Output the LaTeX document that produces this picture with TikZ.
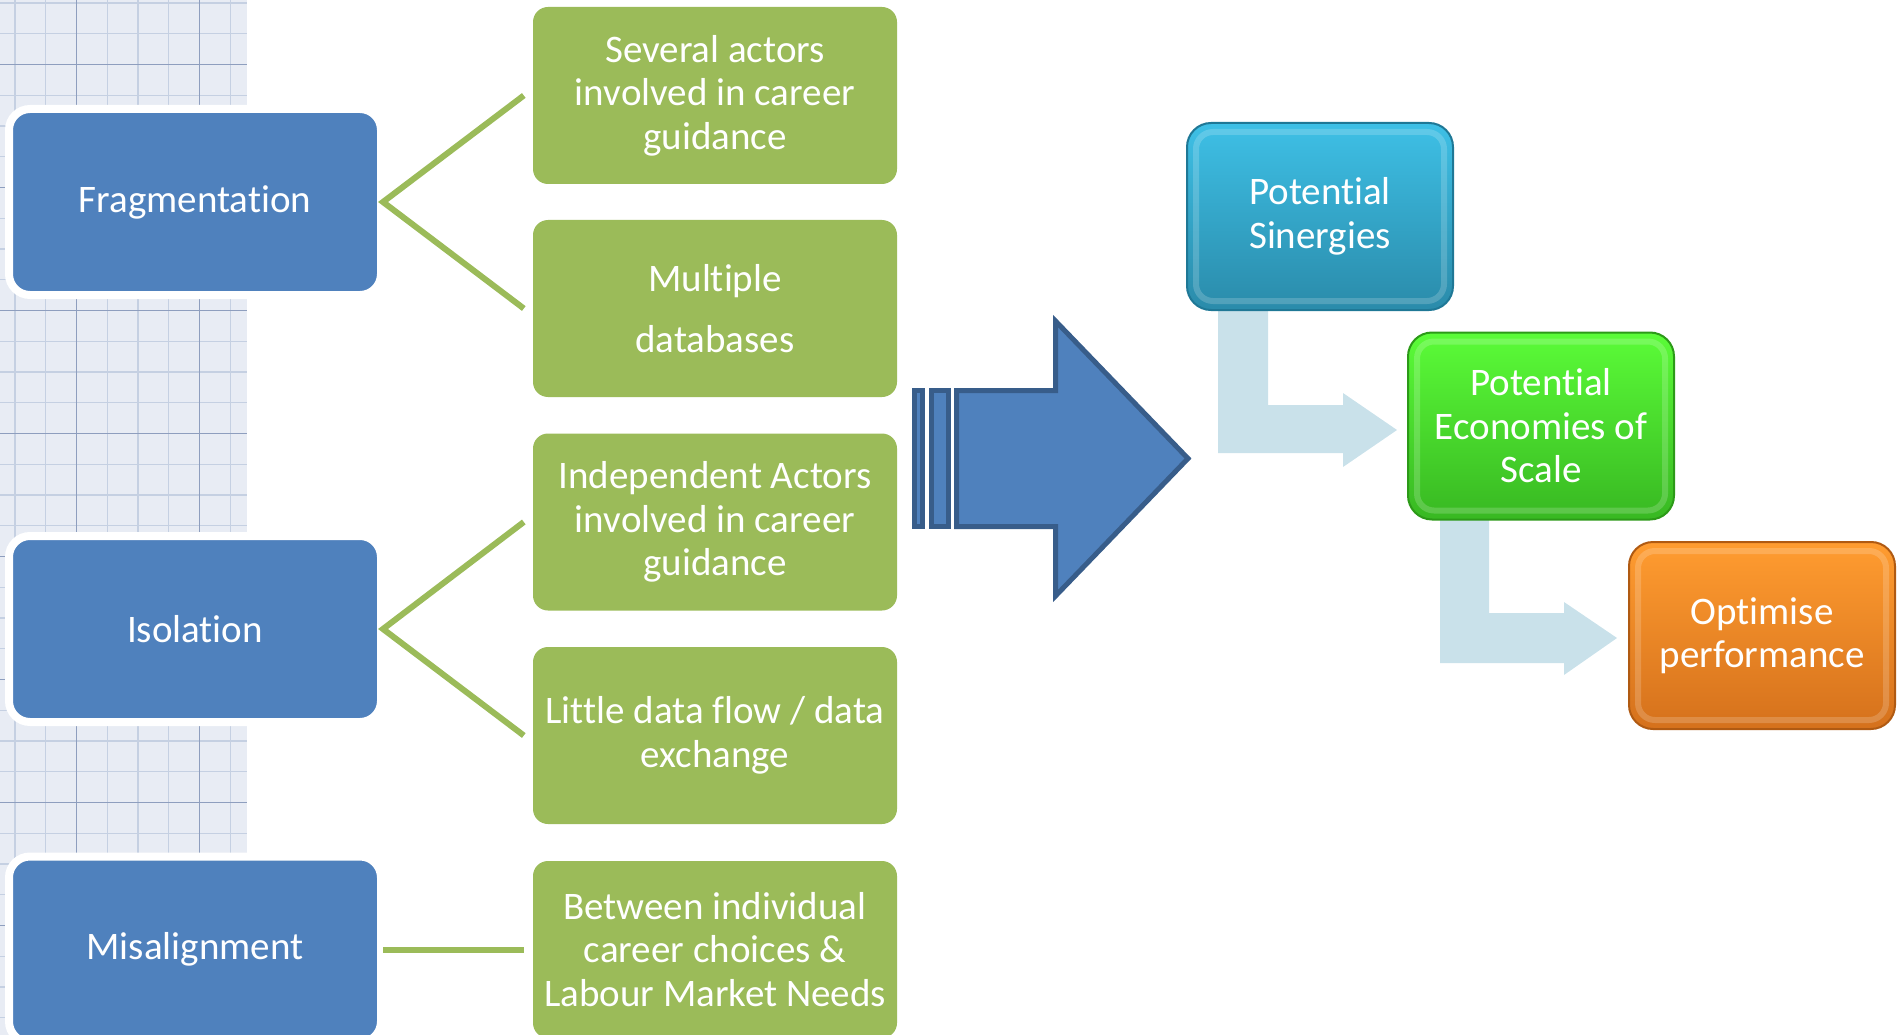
\documentclass[tikz,border=0pt]{standalone}
\usepackage{fontspec}
\setmainfont{Carlito}[Ligatures={NoCommon,NoRequired,NoContextual}]
\usetikzlibrary{calc}
\definecolor{boxblue}{HTML}{4F81BD}
\definecolor{arrowedge}{HTML}{385D8A}
\definecolor{boxgreen}{HTML}{9BBB59}
\definecolor{gridbg}{HTML}{E8ECF4}
\definecolor{gridminor}{HTML}{C5D0E2}
\definecolor{gridmajor}{HTML}{8E9EBE}
\definecolor{flowarrow}{HTML}{C9E1EA}
\definecolor{cyantop}{HTML}{3EC0E6}
\definecolor{cyanbot}{HTML}{2A8BAA}
\definecolor{cyanedge}{HTML}{1F7896}
\definecolor{limetop}{HTML}{5BFC38}
\definecolor{limebot}{HTML}{38B822}
\definecolor{limeedge}{HTML}{2C9A18}
\definecolor{orangetop}{HTML}{FF9C30}
\definecolor{orangebot}{HTML}{D5711C}
\definecolor{orangeedge}{HTML}{B05A12}
\tikzset{
  txt/.style={text=white, font=\fontsize{39}{43.5}\selectfont, align=center, inner sep=0pt},
  catbox/.style={txt, fill=boxblue, draw=white, line width=8pt, rounded corners=21pt,
    minimum width=372pt, minimum height=186pt},
  itembox/.style={txt, fill=boxgreen, rounded corners=15pt, minimum width=364pt, minimum height=177pt},
  link/.style={draw=boxgreen, line width=6pt},
  gbox/.style={txt, rounded corners=24pt, line width=2pt, minimum width=266pt, minimum height=187pt},
  bevel/.style={draw=white, opacity=0.18, line width=6pt, rounded corners=17pt},
  bigarrow/.style={fill=boxblue, draw=arrowedge, line width=5pt},
  flow/.style={fill=flowarrow}
}
\begin{document}
\begin{tikzpicture}[x=1pt,y=-1pt]
\useasboundingbox (0,0) rectangle (1899,1035);
% grid panel
\fill[gridbg] (0,0) rectangle (247,1035);
\foreach \k in {0,...,7} {
  \pgfmathsetmacro{\xx}{15+30.75*\k}
  \draw[gridminor, line width=1.3pt] (\xx,0) -- (\xx,1035);
}
\foreach \k in {0,...,33} {
  \pgfmathsetmacro{\yy}{3+30.75*\k}
  \draw[gridminor, line width=1.3pt] (0,\yy) -- (247,\yy);
}
\foreach \k in {2,6} {
  \pgfmathsetmacro{\xx}{15+30.75*\k}
  \draw[gridmajor, line width=1.3pt] (\xx,0) -- (\xx,1035);
}
\foreach \k in {2,6,...,30} {
  \pgfmathsetmacro{\yy}{3+30.75*\k}
  \draw[gridmajor, line width=1.3pt] (0,\yy) -- (247,\yy);
}
% category boxes
\node[catbox] (frag) at (195,202) {Fragmentation};
\node[catbox] (iso) at (195,629) {Isolation};
\node[catbox] (mis) at (195,949.5) {Misalignment};
% item boxes
\node[itembox] (g1) at (715,95.5) {Several actors\\involved in career\\guidance};
\node[itembox] (g2) at (715,308.5) {Multiple\\[18pt]databases};
\node[itembox] (g3) at (715,522) {Independent Actors\\involved in career\\guidance};
\node[itembox] (g4) at (715,735.5) {Little data flow / data\\exchange};
\node[itembox] (g5) at (715,949.5) {Between individual\\career choices \&\\Labour Market Needs};
% connector ends
\coordinate (e1) at ($(g1.west)+(-9,0)$);
\coordinate (e2) at ($(g2.west)+(-9,0)$);
\coordinate (e3) at ($(g3.west)+(-9,0)$);
\coordinate (e4) at ($(g4.west)+(-9,0)$);
\coordinate (e5) at ($(g5.west)+(-9,0)$);
\draw[link] (e1) -- ($(frag.east)+(-2,0)$) -- (e2);
\draw[link] (e3) -- ($(iso.east)+(-2,0)$) -- (e4);
\draw[link] ($(mis.east)+(-2,0)$) -- (e5);
% big arrow
\filldraw[bigarrow] (914.5,390.5) rectangle (922.5,526.5);
\filldraw[bigarrow] (931.5,390.5) rectangle (948.5,526.5);
\filldraw[bigarrow] (956.5,390.5) -- (1055.5,390.5) -- (1055.5,321) -- (1188,458.5)
  -- (1055.5,596) -- (1055.5,526.5) -- (956.5,526.5) -- cycle;
% flow arrows
\fill[flow] (1218,300) -- (1268,300) -- (1268,405) -- (1343,405) -- (1343,393) -- (1397,430)
  -- (1343,467) -- (1343,453) -- (1218,453) -- cycle;
\fill[flow] (1440,510) -- (1489,510) -- (1489,613) -- (1564,613) -- (1564,602) -- (1617,638)
  -- (1564,675) -- (1564,663) -- (1440,663) -- cycle;
% result boxes
\node[gbox, top color=cyantop, bottom color=cyanbot, draw=cyanedge] (syn) at (1320,216.5) {Potential\\Sinergies};
\draw[bevel] ($(syn.north west)+(10,10)$) rectangle ($(syn.south east)+(-10,-10)$);
\node[gbox, top color=limetop, bottom color=limebot, draw=limeedge] (eco) at (1541,426) {Potential\\Economies of\\Scale};
\draw[bevel] ($(eco.north west)+(10,10)$) rectangle ($(eco.south east)+(-10,-10)$);
\node[gbox, top color=orangetop, bottom color=orangebot, draw=orangeedge] (opt) at (1762,635.5) {Optimise\\performance};
\draw[bevel] ($(opt.north west)+(10,10)$) rectangle ($(opt.south east)+(-10,-10)$);
\end{tikzpicture}
\end{document}
